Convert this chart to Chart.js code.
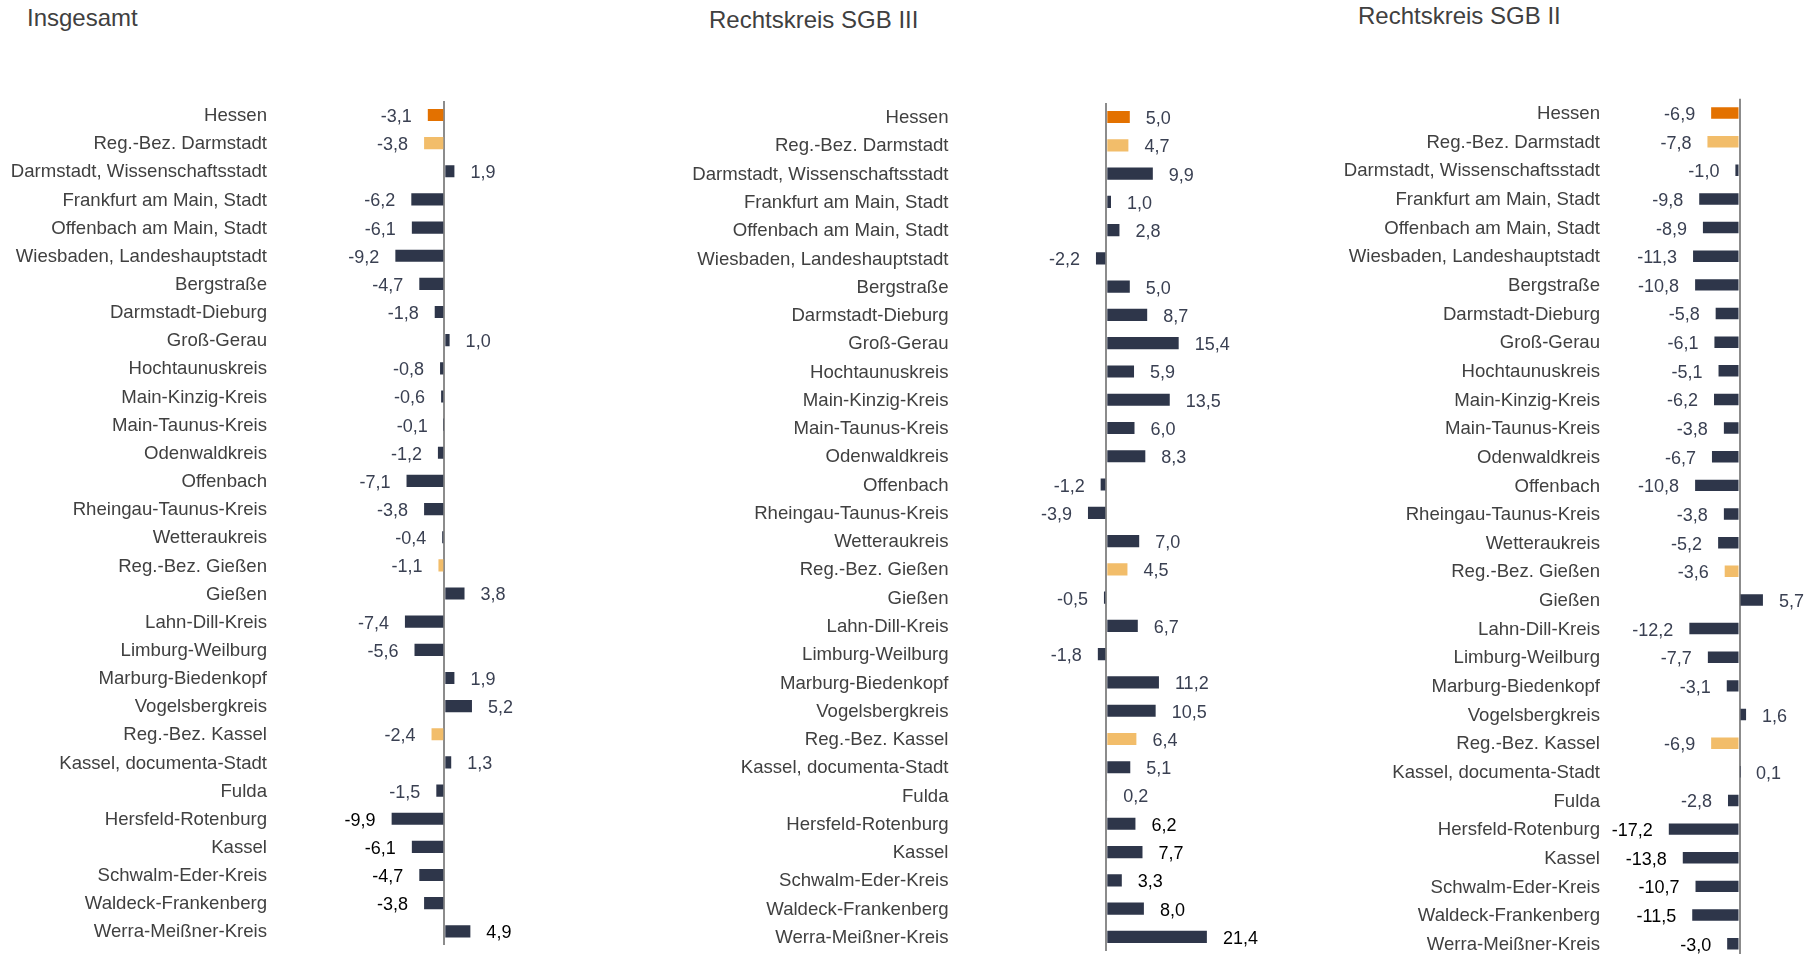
<!DOCTYPE html>
<html lang="de">
<head>
<meta charset="utf-8">
<title>Veränderung der Arbeitslosigkeit in Hessen</title>
<script src="https://cdn.jsdelivr.net/npm/chart.js@4.4.1/dist/chart.umd.min.js"></script>
<style>
  html, body { margin: 0; padding: 0; background: #ffffff; width: 1813px; height: 954px; overflow: hidden; }
  .panel { position: absolute; top: 0; }
  .title {
    position: absolute;
    font-family: "Liberation Sans", Arial, sans-serif;
    font-size: 24px;
    line-height: 24px;
    color: #404040;
    white-space: nowrap;
  }
</style>
</head>
<body>
<div class="title" style="left:27px; top:6px;">Insgesamt</div>
<div class="title" style="left:709px; top:8px;">Rechtskreis SGB III</div>
<div class="title" style="left:1358px; top:4px;">Rechtskreis SGB II</div>

<canvas id="chartTotal" class="panel" width="600" height="954" style="left:0px;"></canvas>
<canvas id="chartSgb3" class="panel" width="690" height="954" style="left:600px;"></canvas>
<canvas id="chartSgb2" class="panel" width="523" height="970" style="left:1290px;"></canvas>

<script>
// Regions of Hessen (state, administrative districts, districts and cities)
const categories = [
  "Hessen",
  "Reg.-Bez. Darmstadt",
  "Darmstadt, Wissenschaftsstadt",
  "Frankfurt am Main, Stadt",
  "Offenbach am Main, Stadt",
  "Wiesbaden, Landeshauptstadt",
  "Bergstraße",
  "Darmstadt-Dieburg",
  "Groß-Gerau",
  "Hochtaunuskreis",
  "Main-Kinzig-Kreis",
  "Main-Taunus-Kreis",
  "Odenwaldkreis",
  "Offenbach",
  "Rheingau-Taunus-Kreis",
  "Wetteraukreis",
  "Reg.-Bez. Gießen",
  "Gießen",
  "Lahn-Dill-Kreis",
  "Limburg-Weilburg",
  "Marburg-Biedenkopf",
  "Vogelsbergkreis",
  "Reg.-Bez. Kassel",
  "Kassel, documenta-Stadt",
  "Fulda",
  "Hersfeld-Rotenburg",
  "Kassel",
  "Schwalm-Eder-Kreis",
  "Waldeck-Frankenberg",
  "Werra-Meißner-Kreis"
];

// Change in percent, all unemployed
const valuesTotal = [
  -3.1, -3.8, 1.9, -6.2, -6.1, -9.2, -4.7, -1.8, 1.0, -0.8,
  -0.6, -0.1, -1.2, -7.1, -3.8, -0.4, -1.1, 3.8, -7.4, -5.6,
  1.9, 5.2, -2.4, 1.3, -1.5, -9.9, -6.1, -4.7, -3.8, 4.9
];

// Change in percent, legal area SGB III
const valuesSgb3 = [
  5.0, 4.7, 9.9, 1.0, 2.8, -2.2, 5.0, 8.7, 15.4, 5.9,
  13.5, 6.0, 8.3, -1.2, -3.9, 7.0, 4.5, -0.5, 6.7, -1.8,
  11.2, 10.5, 6.4, 5.1, 0.2, 6.2, 7.7, 3.3, 8.0, 21.4
];

// Change in percent, legal area SGB II
const valuesSgb2 = [
  -6.9, -7.8, -1.0, -9.8, -8.9, -11.3, -10.8, -5.8, -6.1, -5.1,
  -6.2, -3.8, -6.7, -10.8, -3.8, -5.2, -3.6, 5.7, -12.2, -7.7,
  -3.1, 1.6, -6.9, 0.1, -2.8, -17.2, -13.8, -10.7, -11.5, -3.0
];

// Styling
const FONT = '"Liberation Sans", Arial, sans-serif';
const COLOR_STATE = '#e37100';
const COLOR_DISTRICT = '#f2bd6a';
const COLOR_REGION = '#2e364a';
const COLOR_CATEGORY_TEXT = '#404040';
const COLOR_VALUE_TEXT = '#3a4052';
const COLOR_VALUE_TEXT_DARK = '#000000';
const FIRST_DARK_VALUE_ROW = 25;
const VALUE_GAP = 16;

function barColor(label, i) {
  if (i === 0) return COLOR_STATE;
  if (label.startsWith('Reg.-Bez.')) return COLOR_DISTRICT;
  return COLOR_REGION;
}

function formatValue(v) {
  return v.toFixed(1).replace('.', ',');
}

// Value labels placed just beyond the end of each bar
const valueLabelPlugin = {
  id: 'valueLabels',
  afterDatasetsDraw(chart) {
    const ctx = chart.ctx;
    const xScale = chart.scales.x;
    const data = chart.data.datasets[0].data;
    const meta = chart.getDatasetMeta(0);
    ctx.save();
    ctx.font = '18px ' + FONT;
    ctx.textBaseline = 'middle';
    meta.data.forEach((bar, i) => {
      const v = data[i];
      const end = xScale.getPixelForValue(v);
      const negative = v < 0;
      ctx.textAlign = negative ? 'right' : 'left';
      ctx.fillStyle = i >= FIRST_DARK_VALUE_ROW ? COLOR_VALUE_TEXT_DARK : COLOR_VALUE_TEXT;
      ctx.fillText(formatValue(v), negative ? end - VALUE_GAP : end + VALUE_GAP, bar.y + 2);
    });
    ctx.restore();
  }
};

// Panel geometry (pixels relative to each canvas)
const panels = [
  { id: 'chartTotal', values: valuesTotal, axisX: 444.3, pxPerUnit: 5.32, xMin: -12, xMax: 8,
    labelRight: 267, top: 100.9, bottom: 945.4, barPct: 0.43 },
  { id: 'chartSgb3', values: valuesSgb3, axisX: 506.3, pxPerUnit: 4.70, xMin: -8, xMax: 24,
    labelRight: 348.5, top: 102.9, bottom: 951.0, barPct: 0.43 },
  { id: 'chartSgb2', values: valuesSgb2, axisX: 449.5, pxPerUnit: 4.11, xMin: -20, xMax: 8,
    labelRight: 310, top: 98.7, bottom: 958.0, barPct: 0.40 }
];

panels.forEach(p => {
  const canvas = document.getElementById(p.id);
  const chartLeft = p.axisX + p.xMin * p.pxPerUnit;
  const chartRight = p.axisX + p.xMax * p.pxPerUnit;

  new Chart(canvas, {
    type: 'bar',
    data: {
      labels: categories,
      datasets: [{
        data: p.values,
        backgroundColor: categories.map(barColor),
        borderWidth: 0,
        barPercentage: p.barPct,
        categoryPercentage: 1
      }]
    },
    options: {
      indexAxis: 'y',
      responsive: false,
      animation: false,
      events: [],
      layout: {
        padding: {
          left: 0,
          top: p.top,
          right: canvas.width - chartRight,
          bottom: canvas.height - p.bottom
        }
      },
      plugins: {
        legend: { display: false },
        tooltip: { enabled: false },
        title: { display: false }
      },
      scales: {
        x: {
          type: 'linear',
          min: p.xMin,
          max: p.xMax,
          z: 1,
          ticks: { display: false, stepSize: 1 },
          grid: {
            drawTicks: false,
            lineWidth: 2,
            color: c => (c.tick && c.tick.value === 0) ? '#8c8c8c' : 'rgba(0,0,0,0)'
          },
          border: { display: false },
          afterFit(s) { s.height = 0; s.paddingLeft = 0; s.paddingRight = 0; }
        },
        y: {
          type: 'category',
          offset: true,
          grid: { display: false, drawTicks: false },
          border: { display: false },
          ticks: {
            autoSkip: false,
            padding: chartLeft - p.labelRight,
            labelOffset: 1,
            color: COLOR_CATEGORY_TEXT,
            font: { family: FONT, size: 18.6 }
          },
          afterFit(s) { s.width = chartLeft; s.paddingTop = 0; s.paddingBottom = 0; }
        }
      }
    },
    plugins: [valueLabelPlugin]
  });
});
</script>
</body>
</html>
